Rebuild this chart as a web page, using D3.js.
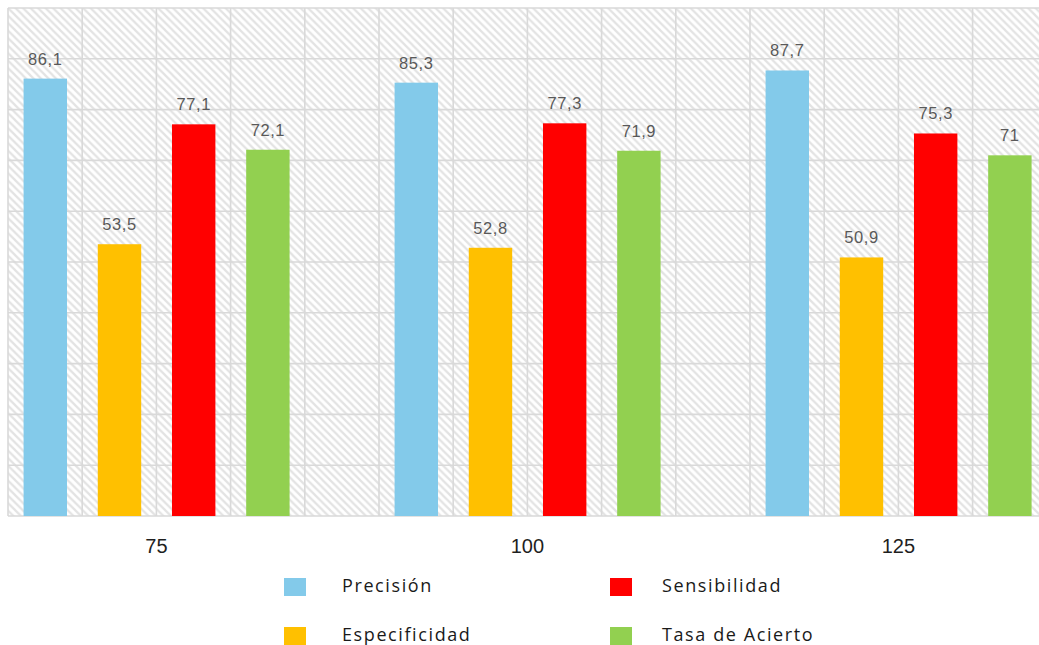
<!DOCTYPE html>
<html>
<head>
<meta charset="utf-8">
<script src="https://cdn.jsdelivr.net/npm/d3@7"></script>
<style>
  html, body { margin: 0; padding: 0; background: #fff; }
  svg { display: block; }
</style>
</head>
<body>
<svg id="chart" width="1039" height="645"></svg>
<script>
// ---- data ----
const categories = ["75", "100", "125"];
const seriesNames = ["Precisión", "Especificidad", "Sensibilidad", "Tasa de Acierto"];
const precision = [86.1, 85.3, 87.7];
const especificidad = [53.5, 52.8, 50.9];
const sensibilidad = [77.1, 77.3, 75.3];
const tasaAcierto = [72.1, 71.9, 71];
const yTicks = [0, 10, 20, 30, 40, 50, 60, 70, 80, 90, 100];
const seriesColors = ["#83CAEA", "#FFC000", "#FF0000", "#92D050"];
const legendOrder = ["Precisión", "Sensibilidad", "Especificidad", "Tasa de Acierto"];

const seriesValues = [precision, especificidad, sensibilidad, tasaAcierto];

// ---- layout ----
const plot = { left: 8, top: 8, bottom: 516, step: 74.2 };

const svg = d3.select("#chart");

// slots: each category has one slot per series, plus an empty gap slot between categories
const slots = [];
categories.forEach((c, i) => {
  seriesNames.forEach((s, j) => slots.push({ key: c + "|" + s, cat: i, ser: j, gap: false }));
  if (i < categories.length - 1) slots.push({ key: "gap" + i, gap: true });
});

const x = d3.scaleBand()
  .domain(slots.map(d => d.key))
  .range([plot.left, plot.left + slots.length * plot.step])
  .padding(0);

const y = d3.scaleLinear().domain([0, 100]).range([plot.bottom, plot.top]);

// hatch pattern
const defs = svg.append("defs");
const P = 7.5;
const pat = defs.append("pattern")
  .attr("id", "hatch")
  .attr("patternUnits", "userSpaceOnUse")
  .attr("width", P).attr("height", P);
pat.append("rect").attr("width", P).attr("height", P).attr("fill", "#ffffff");
pat.append("path")
  .attr("d", `M-2,-2 L${P + 2},${P + 2} M-2,${P - 2} L2,${P + 2} M${P - 2},-2 L${P + 2},2`)
  .attr("stroke", "#e3e3e3")
  .attr("stroke-width", 2.2);

// plot background
svg.append("rect")
  .attr("x", plot.left).attr("y", plot.top)
  .attr("width", x.range()[1] - plot.left)
  .attr("height", plot.bottom - plot.top)
  .attr("fill", "url(#hatch)");

// grid lines
const grid = svg.append("g").attr("stroke", "#d9d9d9").attr("stroke-width", 1.6);
grid.selectAll("line.h").data(yTicks).join("line")
  .attr("class", "h")
  .attr("x1", plot.left).attr("x2", x.range()[1])
  .attr("y1", d => y(d)).attr("y2", d => y(d));
const vEdges = slots.map(d => x(d.key)).concat([x.range()[1]]);
grid.selectAll("line.v").data(vEdges).join("line")
  .attr("class", "v")
  .attr("x1", d => d).attr("x2", d => d)
  .attr("y1", plot.top).attr("y2", plot.bottom);

// bars
const barData = slots.filter(d => !d.gap).map(d => ({
  key: d.key, cat: d.cat, ser: d.ser, value: seriesValues[d.ser][d.cat]
}));
const bw = x.bandwidth();
const barOffset = bw * 0.21, barWidth = bw * 0.585;

svg.append("g").selectAll("rect").data(barData).join("rect")
  .attr("x", d => x(d.key) + barOffset)
  .attr("width", barWidth)
  .attr("y", d => y(d.value))
  .attr("height", d => y(0) - y(d.value))
  .attr("fill", d => seriesColors[d.ser]);

// value labels
svg.append("g").selectAll("text").data(barData).join("text")
  .attr("x", d => x(d.key) + barOffset + barWidth / 2)
  .attr("y", d => y(d.value) - 14)
  .attr("text-anchor", "middle")
  .attr("font-family", "'Liberation Sans', Arial, sans-serif")
  .attr("font-size", 16.5)
  .attr("letter-spacing", 0.6)
  .attr("fill", "#595959")
  .text(d => String(d.value).replace(".", ","));

// category labels
svg.append("g").selectAll("text").data(categories).join("text")
  .attr("x", (c, i) => {
    const first = x(c + "|" + seriesNames[0]);
    const last = x(c + "|" + seriesNames[seriesNames.length - 1]) + bw;
    return (first + last) / 2;
  })
  .attr("y", 553)
  .attr("text-anchor", "middle")
  .attr("font-family", "'Liberation Sans', Arial, sans-serif")
  .attr("font-size", 20)
  .attr("fill", "#1f1f1f")
  .text(d => d);

// legend
const legendCols = [284, 610];
const legendRows = [578, 627];
const legend = svg.append("g").selectAll("g").data(legendOrder).join("g")
  .attr("transform", (d, i) => `translate(${legendCols[i % 2]},${legendRows[Math.floor(i / 2)]})`);
legend.append("rect")
  .attr("width", 22).attr("height", 18)
  .attr("fill", d => seriesColors[seriesNames.indexOf(d)]);
legend.append("text")
  .attr("x", (d, i) => i % 2 === 0 ? 58 : 52)
  .attr("y", 13.5)
  .attr("font-family", "'Open Sans', 'Noto Sans', sans-serif")
  .attr("font-size", 18)
  .attr("letter-spacing", 1.6)
  .attr("fill", "#1a1a1a")
  .text(d => d);
</script>
</body>
</html>
